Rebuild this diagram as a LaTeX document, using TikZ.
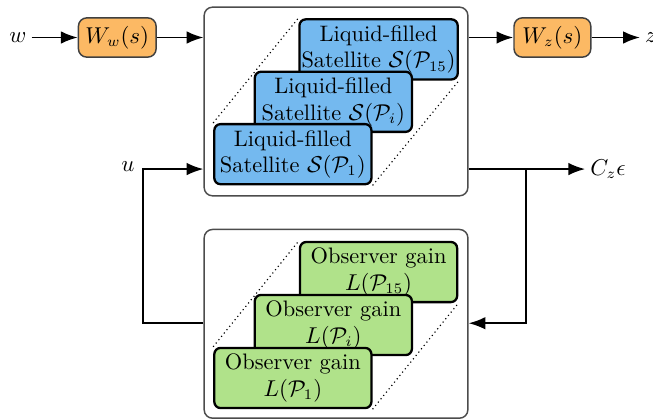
\documentclass[tikz,border=0pt]{standalone}
\usepackage{amsmath}
\usepackage{xcolor}
\usetikzlibrary{arrows.meta,backgrounds}

\definecolor{satblue}{RGB}{116,185,239}
\definecolor{gaingreen}{RGB}{176,226,138}
\definecolor{wfilt}{RGB}{252,185,100}

\begin{document}
\begin{tikzpicture}[>={Latex[length=8pt,width=6pt]}, line width=0.9pt,
    font=\fontsize{10.7}{12.6}\selectfont,
    outer/.style={draw=black!70, line width=0.7pt, rounded corners=4pt, minimum width=4.43cm, minimum height=3.17cm},
    weight/.style={draw=black!75, fill=wfilt, line width=0.7pt, rounded corners=4pt, minimum width=1.29cm, minimum height=0.66cm},
    sat/.style={draw, fill=satblue, line width=1.1pt, rounded corners=3pt, align=center, minimum width=2.64cm, minimum height=1.01cm, inner sep=1pt},
    gain/.style={sat, fill=gaingreen},
    guide/.style={line width=0.55pt, dash pattern=on 0.55pt off 1.5pt},
    sig/.style={inner sep=2pt}]
    \useasboundingbox (0,0) rectangle (10.97,-7.04);

    % plant and observer banks
    \node[outer] (plant) at (5.645,-1.705) {};
    \node[outer] (obs) at (5.645,-5.44) {};

    \node[sat] (s15) at (6.36,-0.83) {Liquid-filled\\Satellite $\mathcal{S}(\mathcal{P}_{15})$};
    \node[sat] (si) at (5.60,-1.71) {Liquid-filled\\Satellite $\mathcal{S}(\mathcal{P}_{i})$};
    \node[sat] (s1) at (4.92,-2.59) {Liquid-filled\\Satellite $\mathcal{S}(\mathcal{P}_{1})$};

    \node[gain] (l15) at (6.36,-4.57) {Observer gain\\$L(\mathcal{P}_{15})$};
    \node[gain] (li) at (5.60,-5.46) {Observer gain\\$L(\mathcal{P}_{i})$};
    \node[gain] (l1) at (4.92,-6.35) {Observer gain\\$L(\mathcal{P}_{1})$};

    \begin{scope}[on background layer]
        \draw[guide] (s1.north west) -- (s15.north west);
        \draw[guide] (s1.south east) -- (s15.south east);
        \draw[guide] (l1.north west) -- (l15.north west);
        \draw[guide] (l1.south east) -- (l15.south east);
    \end{scope}

    % weighting filters
    \node[weight] (ww) at (1.97,-0.63) {$W_w(s)$};
    \node[weight] (wz) at (9.28,-0.63) {$W_z(s)$};

    % signals
    \node[sig, anchor=east] (w) at (0.53,-0.63) {$w$};
    \node[sig, anchor=west] (z) at (10.75,-0.63) {$z$};
    \node[sig, anchor=west] (cz) at (9.83,-2.84) {$C_z\epsilon$};
    \node[sig] (u) at (2.15,-2.80) {$u$};

    \coordinate (tap) at (8.84,-2.84);
    \coordinate (fb) at (8.84,-5.43);
    \coordinate (ucorner) at (2.40,-2.84);
    \coordinate (lcorner) at (2.40,-5.43);

    \draw[->] (w) -- (ww);
    \draw[->] (ww) -- (ww -| plant.west);
    \draw[->] (ww -| plant.east) -- (wz);
    \draw[->] (wz) -- (z);
    \draw[->] (plant.east |- cz) -- (cz);
    \draw[->] (tap) -- (fb) -- (obs.east |- fb);
    \draw[->] (obs.west |- lcorner) -- (lcorner) -- (ucorner) -- (ucorner -| plant.west);
\end{tikzpicture}
\end{document}
